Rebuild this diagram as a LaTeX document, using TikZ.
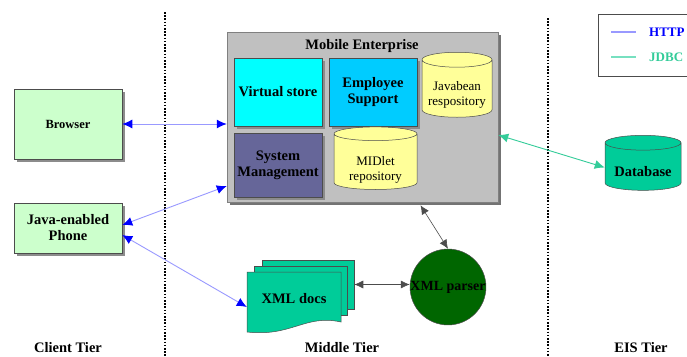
\documentclass[tikz,border=0pt]{standalone}
\usepackage{fontspec}
\setmainfont{Liberation Serif}
\usetikzlibrary{arrows.meta, shapes.geometric, shadows}
\definecolor{clientGreen}{HTML}{CCFFCC}
\definecolor{panelGray}{HTML}{C0C0C0}
\definecolor{storeCyan}{HTML}{00FFFF}
\definecolor{supportBlue}{HTML}{00CCFF}
\definecolor{mgmtPurple}{HTML}{666699}
\definecolor{repoYellow}{HTML}{FFFF99}
\definecolor{docTeal}{HTML}{00CC99}
\definecolor{parserGreen}{HTML}{006600}
\definecolor{httpLine}{HTML}{9999FF}
\definecolor{httpTip}{HTML}{0000FF}
\definecolor{jdbcTeal}{HTML}{33CC99}
\definecolor{jdbcLight}{HTML}{77E0C0}

% pushes a cylinder label down, below the top cap
\newcommand{\capdrop}[1]{\rule{0pt}{#1}}

\begin{document}
\begin{tikzpicture}[x=1pt, y=-1pt,
    lbl/.style={font=\fontsize{14.5}{16}\selectfont\bfseries, align=center},
    shade/.style={drop shadow={shadow xshift=2.5pt, shadow yshift=-2.5pt,
                  fill=black!45, opacity=1}},
    box/.style={rectangle, draw=black!70, line width=0.5pt, inner sep=2pt,
                lbl, shade},
    repo/.style={cylinder, shape border rotate=90, aspect=0.25, draw=black!70,
                 line width=0.5pt, fill=repoYellow, inner sep=1pt,
                 font=\fontsize{13}{14.5}\selectfont, align=center},
    sheet/.style={rectangle, draw=black!70, line width=0.5pt, fill=docTeal},
    tier/.style={line width=1.6pt, dash pattern=on 1.6pt off 1.6pt},
    http/.style={{Latex[length=10pt, width=9pt, color=httpTip]}-{Latex[length=10pt, width=9pt, color=httpTip]},
                 httpLine, line width=0.9pt},
    jdbc/.style={{Latex[length=10pt, width=9pt, color=jdbcTeal]}-{Latex[length=10pt, width=9pt, color=jdbcTeal]},
                 jdbcTeal, line width=0.9pt},
    link/.style={{Latex[length=9pt, width=8pt]}-{Latex[length=9pt, width=8pt]},
                 black!70, line width=0.6pt}
  ]
    \clip (0,0) rectangle (687,356);
    \fill[white] (0,0) rectangle (687,356);

    % tier separators
    \draw[tier] (165,12) -- (165,356);
    \draw[tier] (548,18) -- (548,356);

    % legend
    \draw[black!70, line width=0.6pt, fill=white] (598,14) rectangle (700,76);
    \draw[httpLine, line width=1.2pt] (611,32) -- (636,32);
    \draw[jdbcLight, line width=1.2pt] (611,57) -- (636,57);
    \node[lbl, font=\fontsize{13}{15}\selectfont\bfseries, text=httpTip,
          anchor=west, inner sep=0pt] (lhttp) at (649,32) {HTTP};
    \node[lbl, font=\fontsize{13}{15}\selectfont\bfseries, text=jdbcTeal,
          anchor=west, inner sep=0pt] (ljdbc) at (649,57) {JDBC};

    % client tier
    \node[box, fill=clientGreen, minimum width=108pt, minimum height=70pt,
          font=\fontsize{12.5}{14}\selectfont\bfseries] (brw) at (68,124) {Browser};
    \node[box, fill=clientGreen, minimum width=108pt, minimum height=50pt]
      (phn) at (68,228) {Java-enabled\\Phone};

    % middle tier
    \node[box, draw=black!50, fill=panelGray, minimum width=271pt,
          minimum height=170pt, drop shadow={shadow xshift=3pt,
          shadow yshift=-3pt, fill=black!55, opacity=1}] (me) at (362.5,117) {};
    \node[lbl] (metitle) at (362,46) {Mobile Enterprise};
    \node[box, fill=storeCyan, minimum width=88pt, minimum height=68pt]
      (vst) at (278,92) {Virtual store};
    \node[box, fill=supportBlue, minimum width=88pt, minimum height=68pt]
      (emp) at (373,92) {Employee\\Support};
    \node[box, fill=mgmtPurple, minimum width=88pt, minimum height=64pt, inner sep=0pt]
      (sys) at (278,165) {System\\Management};
    \node[repo, minimum width=70pt, minimum height=65pt]
      (jbr) at (457,89.5) {\capdrop{20pt}Javabean\\respository};
    \node[repo, minimum width=83pt, minimum height=59pt]
      (mid) at (375.5,162.5) {\capdrop{24pt}MIDlet\\repository};

    % XML documents and parser
    \node[sheet, minimum width=92pt, minimum height=49pt] (xmlc) at (308,284.5) {};
    \node[sheet, minimum width=93pt, minimum height=49pt] (xmlb) at (300.5,290.5) {};
    \draw[black!70, line width=0.5pt, fill=docTeal]
      (247,272) -- (341,272) -- (341,322)
      .. controls (305,314) and (292,337) .. (247,332) -- cycle;
    \node[lbl, minimum width=94pt, minimum height=58pt] (xmld) at (294,299) {XML docs};
    \node[circle, draw=black!70, line width=0.5pt, fill=parserGreen, lbl,
          font=\fontsize{14}{16}\selectfont\bfseries,
          minimum size=74pt, inner sep=0pt] (xprs) at (448,287) {XML parser};

    % EIS tier
    \node[repo, fill=docTeal, lbl, minimum width=76pt, minimum height=55pt]
      (db) at (643,167.5) {\capdrop{19pt}Database};

    % connections
    \draw[http] (brw.east) -- (brw -| me.west);
    \draw[http] ([yshift=3pt]phn.east) -- ([yshift=-69pt]me.west);
    \draw[http] ([yshift=-7pt]phn.east) -- ([yshift=-8pt]xmld.west);
    \draw[jdbc] ([yshift=-18pt]me.east) -- (db.west);
    \draw[link] ([xshift=58pt,yshift=-3pt]me.south) -- (xprs.north);
    \draw[link] (xmlc.east) -- (xmlc.east -| xprs.west);

    % tier captions
    \node[lbl] (ctier) at (68,348) {Client Tier};
    \node[lbl] (mtier) at (342,348) {Middle Tier};
    \node[lbl] (etier) at (641,348) {EIS Tier};
  \end{tikzpicture}
\end{document}
